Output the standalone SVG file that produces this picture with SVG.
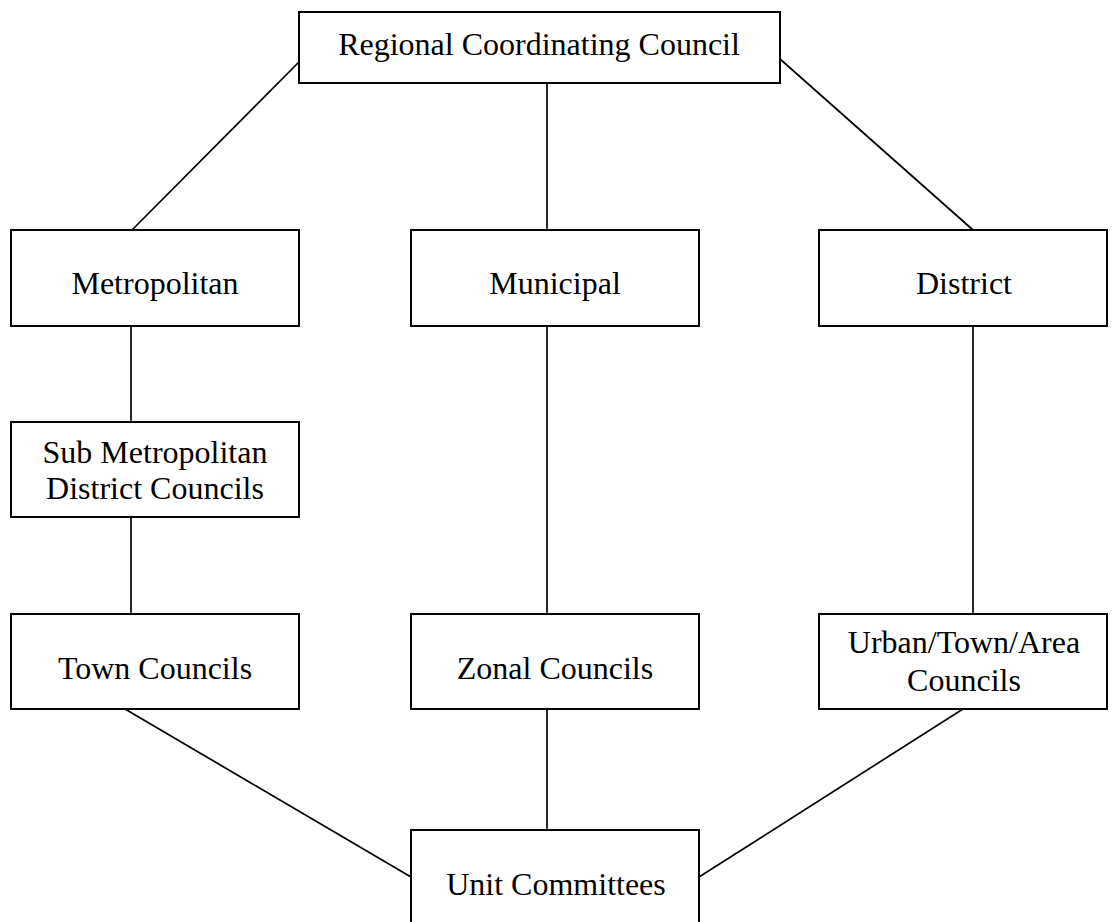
<svg xmlns="http://www.w3.org/2000/svg" width="1115" height="922" viewBox="0 0 1115 922">
<style>
.box{fill:#fff;stroke:#000;stroke-width:2}
.t{font-family:"Liberation Serif","Times New Roman",serif;font-size:32px;fill:#000;text-anchor:middle}
.c line{stroke:#000;stroke-width:1.7}
</style>
<rect width="1115" height="922" fill="#fff"/>
<g class="c" id="connectors">
<line x1="299" y1="62" x2="132" y2="230"/>
<line x1="547" y1="83" x2="547" y2="230"/>
<line x1="780" y1="59" x2="973" y2="230"/>
<line x1="131" y1="326" x2="131" y2="422"/>
<line x1="131" y1="517" x2="131" y2="614"/>
<line x1="547" y1="326" x2="547" y2="614"/>
<line x1="973" y1="326" x2="973" y2="614"/>
<line x1="547" y1="709" x2="547" y2="830"/>
<line x1="125" y1="709" x2="411" y2="877"/>
<line x1="963" y1="709" x2="699" y2="877"/>
</g>
<g id="rcc"><rect class="box" x="299" y="12" width="481" height="71"/><text class="t" x="539" y="55">Regional Coordinating Council</text></g>
<g id="metropolitan"><rect class="box" x="11" y="230" width="288" height="96"/><text class="t" x="155" y="294">Metropolitan</text></g>
<g id="municipal"><rect class="box" x="411" y="230" width="288" height="96"/><text class="t" x="555" y="294">Municipal</text></g>
<g id="district"><rect class="box" x="819" y="230" width="288" height="96"/><text class="t" x="964" y="294">District</text></g>
<g id="submetro"><rect class="box" x="11" y="422" width="288" height="95"/><text class="t" x="155" y="463">Sub Metropolitan</text><text class="t" x="155" y="499">District Councils</text></g>
<g id="town"><rect class="box" x="11" y="614" width="288" height="95"/><text class="t" x="155" y="679">Town Councils</text></g>
<g id="zonal"><rect class="box" x="411" y="614" width="288" height="95"/><text class="t" x="555" y="679">Zonal Councils</text></g>
<g id="urban"><rect class="box" x="819" y="614" width="288" height="95"/><text class="t" x="964" y="653">Urban/Town/Area</text><text class="t" x="964" y="691">Councils</text></g>
<g id="unit"><rect class="box" x="411" y="830" width="288" height="100"/><text class="t" x="556" y="895">Unit Committees</text></g>
</svg>
